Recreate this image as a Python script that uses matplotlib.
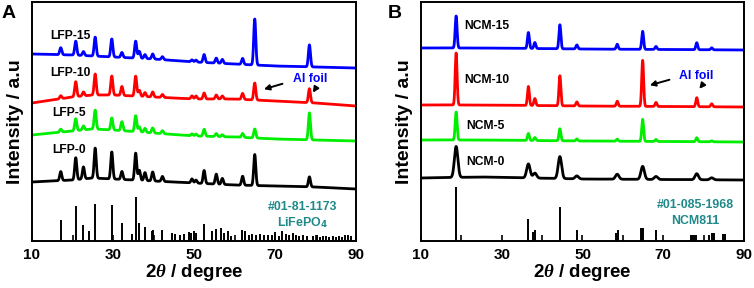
import numpy as np
import matplotlib
matplotlib.use('Agg')
import matplotlib.pyplot as plt

plt.rcParams['font.family'] = ['Liberation Sans', 'DejaVu Sans']
plt.rcParams['font.weight'] = 'bold'
plt.rcParams['mathtext.fontset'] = 'custom'
plt.rcParams['mathtext.rm'] = 'Liberation Sans:bold'
plt.rcParams['mathtext.it'] = 'Liberation Serif:italic:bold'

# ---- panel A : LFP cathodes (y in arbitrary offset units) ----
lfp_names = ['LFP-15', 'LFP-10', 'LFP-5', 'LFP-0']
lfp_colors = ['#0000ff', '#ff0000', '#00ee00', '#000000']
base_x = [10, 20, 25, 30, 40, 50, 60, 70, 80, 90]
lfp_base = [
    [187, 186, 185, 184, 182, 179, 177, 175, 174, 173],
    [138, 144, 146, 146, 144, 142, 142, 140, 138, 135],
    [106, 110, 112, 111, 108, 105, 104, 102, 101, 100],
    [59, 61, 63, 62, 60, 58, 56, 55, 54, 52],
]
lfp_pos = [17.1, 20.8, 22.7, 25.6, 29.7, 32.2, 35.6, 36.5, 37.9, 39.8, 42.2,
           49.5, 50.5, 52.5, 55.5, 57.0, 62.0, 65.0, 78.5]
lfp_hts = [
    [7, 14, 4, 19, 18, 5, 17, 7, 4, 5, 3, 2, 2, 8, 5, 4, 6, 46, 22],
    [3, 15, 4, 21, 19, 9, 20, 6, 4, 5, 3, 3, 3, 6, 4, 3, 6, 17, 14],
    [3, 12, 4, 19, 12, 9, 16, 5, 4, 5, 3, 2, 2, 7, 3, 2, 4, 9, 27],
    [9, 22, 12, 30, 27, 8, 27, 10, 8, 9, 5, 4, 3, 13, 10, 6, 9, 31, 10],
]
lfp_card_pos = [17.1, 20.8, 22.7, 24.0, 25.6, 29.7, 32.2, 34.7, 35.6, 36.5, 37.9,
                39.6, 39.9, 42.2, 44.5, 45.3, 46.6, 47.5, 48.8, 49.2, 49.9, 50.5,
                52.5, 54.5, 55.5, 56.6, 57.4, 58.3, 59.2, 61.8, 62.6, 63.5, 64.2,
                65.4, 66.3, 67.2, 68.3, 69.2, 70.1, 71.0, 71.8, 72.6, 73.5, 74.4,
                75.3, 76.0, 77.0, 78.0, 79.4, 80.3, 81.0, 81.8, 82.5, 83.4, 84.2,
                85.0, 85.8, 86.6, 87.3, 88.0, 88.8]
lfp_card_int = [21, 35, 16, 10, 37, 36, 18, 7, 44, 18, 14, 10, 11, 11, 8, 7, 6, 7,
                9, 8, 10, 8, 17, 10, 12, 13, 8, 10, 5, 11, 10, 6, 7, 6, 7, 6, 6,
                6, 9, 5, 10, 7, 6, 8, 6, 5, 6, 5, 5, 6, 4, 5, 5, 4, 5, 4, 5, 4,
                6, 6, 5]

# ---- panel B : NCM811 cathodes ----
ncm_names = ['NCM-15', 'NCM-10', 'NCM-5', 'NCM-0']
ncm_colors = ['#0000ff', '#ff0000', '#00ee00', '#000000']
ncm_base_x = [10, 25, 50, 90]
ncm_base = [
    [193, 193, 192, 191],
    [136, 136, 135, 134],
    [101, 101, 100, 99],
    [63, 64, 62, 61],
]
ncm_pos = [18.7, 36.6, 38.2, 44.4, 48.6, 58.6, 64.9, 68.2, 78.3, 82.0]
ncm_hts = [
    [32, 16, 6, 24, 4, 5, 18, 3, 7, 2],
    [52, 19, 7, 30, 4, 5, 46, 4, 9, 3],
    [28, 7, 3, 12, 2, 2, 22, 2, 4, 1],
    [31, 14, 5, 22, 3, 5, 13, 3, 6, 2],
]
ncm_card_pos = [18.7, 36.6, 37.8, 38.2, 44.4, 48.6, 58.3, 58.7, 64.4, 64.8, 65.1,
                68.1, 76.9, 77.2, 77.6, 78.1, 81.4, 82.1, 82.5, 84.8, 85.3]
ncm_card_int = [54, 22, 9, 11, 34, 11, 8, 11, 13, 13, 13, 11, 6, 6, 6, 6, 6, 8,
                8, 7, 7]

x = np.arange(10, 90.001, 0.02)


def pattern(bx, by, pos, hts, fwhm):
    y = np.interp(x, bx, by)
    s = fwhm / 2.355
    for p, h in zip(pos, hts):
        y = y + h * np.exp(-0.5 * ((x - p) / s) ** 2)
    return y


fig = plt.figure(figsize=(7.54, 2.88), dpi=100)
axA = fig.add_axes([32 / 754, 47 / 288, 324 / 754, 239 / 288])
axB = fig.add_axes([421 / 754, 47 / 288, 323 / 754, 239 / 288])

teal = '#208a8a'
lbl_kw = dict(fontsize=8.7, fontweight='bold', va='center', ha='left')

# panel A curves
for i in range(4):
    axA.plot(x, pattern(base_x, lfp_base[i], lfp_pos, lfp_hts[i], 0.6),
             color=lfp_colors[i], lw=2.0)
axA.vlines(lfp_card_pos, 0, lfp_card_int, color='black', lw=1.4)
lfp_lbl_x = [14.4, 14.4, 14.9, 14.9]
lfp_lbl_y = [205, 168, 128, 91]
for n, lx, ly in zip(lfp_names, lfp_lbl_x, lfp_lbl_y):
    axA.text(lx, ly, n, **lbl_kw)
axA.text(78.6, 162, 'Al foil', color='#0000ff', fontsize=8.8,
         fontweight='bold', ha='center', va='center')
arr = dict(arrowstyle='-|>', color='black', lw=1.4, mutation_scale=8)
axA.annotate('', xy=(66.6, 151), xytext=(72.5, 158), arrowprops=arr)
axA.annotate('', xy=(79.0, 146), xytext=(80.4, 155), arrowprops=arr)
axA.text(76.7, 34, '#01-81-1173', color=teal, fontsize=8.9,
         fontweight='bold', ha='center', va='center')
axA.text(76.7, 18, r'LiFePO$_\mathbf{4}$', color=teal, fontsize=8.9,
         fontweight='bold', ha='center', va='center')

# panel B curves
for i in range(4):
    w = 1.0 if i == 3 else 0.55
    axB.plot(x, pattern(ncm_base_x, ncm_base[i], ncm_pos, ncm_hts[i], w),
             color=ncm_colors[i], lw=2.0)
axB.vlines(ncm_card_pos, 0, ncm_card_int, color='black', lw=1.4)
ncm_lbl_x = [20.6, 20.6, 21.1, 21.1]
ncm_lbl_y = [215, 161, 115, 79]
for n, lx, ly in zip(ncm_names, ncm_lbl_x, ncm_lbl_y):
    axB.text(lx, ly, n, **lbl_kw)
axB.text(78.2, 165, 'Al foil', color='#0000ff', fontsize=8.8,
         fontweight='bold', ha='center', va='center')
axB.annotate('', xy=(66.0, 155), xytext=(72.2, 162), arrowprops=arr)
axB.annotate('', xy=(78.5, 150), xytext=(80.1, 158), arrowprops=arr)
axB.text(77.9, 36, '#01-085-1968', color=teal, fontsize=8.9,
         fontweight='bold', ha='center', va='center')
axB.text(77.9, 20, 'NCM811', color=teal, fontsize=8.9,
         fontweight='bold', ha='center', va='center')

for ax, letter in [(axA, 'A'), (axB, 'B')]:
    ax.set_xlim(10, 90)
    ax.set_ylim(0, 239)
    ax.set_xticks([10, 30, 50, 70, 90])
    ax.set_xticks([20, 40, 60, 80], minor=True)
    ax.tick_params(axis='x', which='both', direction='in', length=4,
                   width=1.2, labelsize=11, pad=5)
    ax.tick_params(axis='y', left=False, labelleft=False)
    for lab in ax.get_xticklabels():
        lab.set_fontweight('bold')
    for sp in ax.spines.values():
        sp.set_linewidth(1.4)
    ax.set_xlabel(r'2$\theta$ / degree', fontsize=13.5, fontweight='bold',
                  labelpad=0)
    ax.set_ylabel('Intensity / a.u', fontsize=14, fontweight='bold',
                  labelpad=6)

fig.text(2 / 754, 1 - 13 / 288, 'A', fontsize=14, fontweight='bold',
         va='center', ha='left')
fig.text(388 / 754, 1 - 13 / 288, 'B', fontsize=14, fontweight='bold',
         va='center', ha='left')

fig.savefig('out.png', dpi=100)
